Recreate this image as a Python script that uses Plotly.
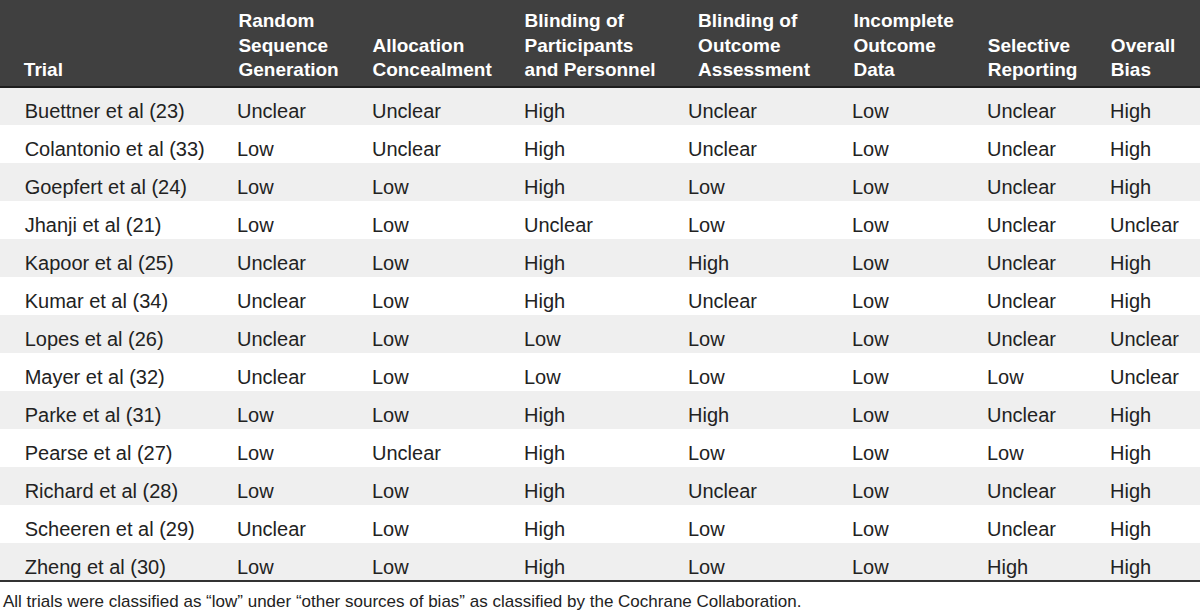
import plotly.graph_objects as go

trials = ["Buettner et al (23)", "Colantonio et al (33)", "Goepfert et al (24)", "Jhanji et al (21)",
          "Kapoor et al (25)", "Kumar et al (34)", "Lopes et al (26)", "Mayer et al (32)",
          "Parke et al (31)", "Pearse et al (27)", "Richard et al (28)", "Scheeren et al (29)",
          "Zheng et al (30)"]
random_seq = ["Unclear", "Low", "Low", "Low", "Unclear", "Unclear", "Unclear", "Unclear",
              "Low", "Low", "Low", "Unclear", "Low"]
allocation = ["Unclear", "Unclear", "Low", "Low", "Low", "Low", "Low", "Low",
              "Low", "Unclear", "Low", "Low", "Low"]
blind_part = ["High", "High", "High", "Unclear", "High", "High", "Low", "Low",
              "High", "High", "High", "High", "High"]
blind_outcome = ["Unclear", "Unclear", "Low", "Low", "High", "Unclear", "Low", "Low",
                 "High", "Low", "Unclear", "Low", "Low"]
incomplete = ["Low"] * 13
selective = ["Unclear", "Unclear", "Unclear", "Unclear", "Unclear", "Unclear", "Unclear", "Low",
             "Unclear", "Low", "Unclear", "Unclear", "High"]
overall = ["High", "High", "High", "Unclear", "High", "High", "Unclear", "Unclear",
           "High", "High", "High", "High", "High"]

headers = [["Trial"], ["Random", "Sequence", "Generation"], ["Allocation", "Concealment"],
           ["Blinding of", "Participants", "and Personnel"], ["Blinding of", "Outcome", "Assessment"],
           ["Incomplete", "Outcome", "Data"], ["Selective", "Reporting"], ["Overall", "Bias"]]
footnote = "All trials were classified as \u201clow\u201d under \u201cother sources of bias\u201d as classified by the Cochrane Collaboration."

col_widths = [229, 135, 152, 164, 164, 135, 123, 98]

NB = "\u00a0"
def fmt_header(lines, i):
    pad = [NB] * (3 - len(lines))
    if i == 0:
        return "<br>".join(pad + [NB * 3 + l for l in lines])
    return "<br>".join(pad + [l + NB * 3 for l in lines])

header_vals = [fmt_header(h, i) for i, h in enumerate(headers)]
columns = [[NB * 3 + t for t in trials], random_seq, allocation, blind_part, blind_outcome,
           incomplete, selective, overall]

W, H = 1200, 613
HEADER_H = 87
ROW_H = 38
N = len(trials)
table_bottom = HEADER_H + ROW_H * N

# text layer offsets (plotly tables place text near the top of each cell)
TXT_TOP = 2
TXT_HEADER_H = 93

def py(px):
    return 1 - px / H

fig = go.Figure(go.Table(
    domain=dict(x=[0, 1], y=[0, py(TXT_TOP)]),
    columnwidth=col_widths,
    header=dict(values=header_vals, fill_color="rgba(0,0,0,0)", line=dict(color="rgba(0,0,0,0)", width=0),
                align=["left"] + ["center"] * 7, height=TXT_HEADER_H,
                font=dict(family="Liberation Sans", size=19, color="white", weight="bold")),
    cells=dict(values=columns, fill_color="rgba(0,0,0,0)", line=dict(color="rgba(0,0,0,0)", width=0),
               align="left", height=ROW_H,
               font=dict(family="Liberation Sans", size=20, color="#222222")),
))

# header background and row banding
fig.add_shape(type="rect", xref="paper", yref="paper", x0=0, x1=1, y0=py(HEADER_H), y1=1,
              fillcolor="#404040", line_width=0, layer="below")
for i in range(0, N, 2):
    fig.add_shape(type="rect", xref="paper", yref="paper", x0=0, x1=1,
                  y0=py(HEADER_H + ROW_H * (i + 1)), y1=py(HEADER_H + ROW_H * i),
                  fillcolor="#efefef", line_width=0, layer="below")

fig.add_shape(type="line", xref="paper", yref="paper", x0=0, x1=1,
              y0=py(HEADER_H), y1=py(HEADER_H), line=dict(color="#1e1e1e", width=2))
fig.add_shape(type="line", xref="paper", yref="paper", x0=0, x1=1,
              y0=py(table_bottom), y1=py(table_bottom), line=dict(color="#333333", width=2))

fig.add_annotation(text=footnote, xref="paper", yref="paper", x=0.001, y=py(601),
                   xanchor="left", yanchor="middle", showarrow=False,
                   font=dict(family="Liberation Sans", size=17, color="#222222"))

fig.update_layout(width=W, height=H, margin=dict(l=0, r=0, t=0, b=0),
                  paper_bgcolor="white", plot_bgcolor="white")
fig.write_html("out.html", config={"displayModeBar": False},
               post_script="document.body.style.margin='0';")
